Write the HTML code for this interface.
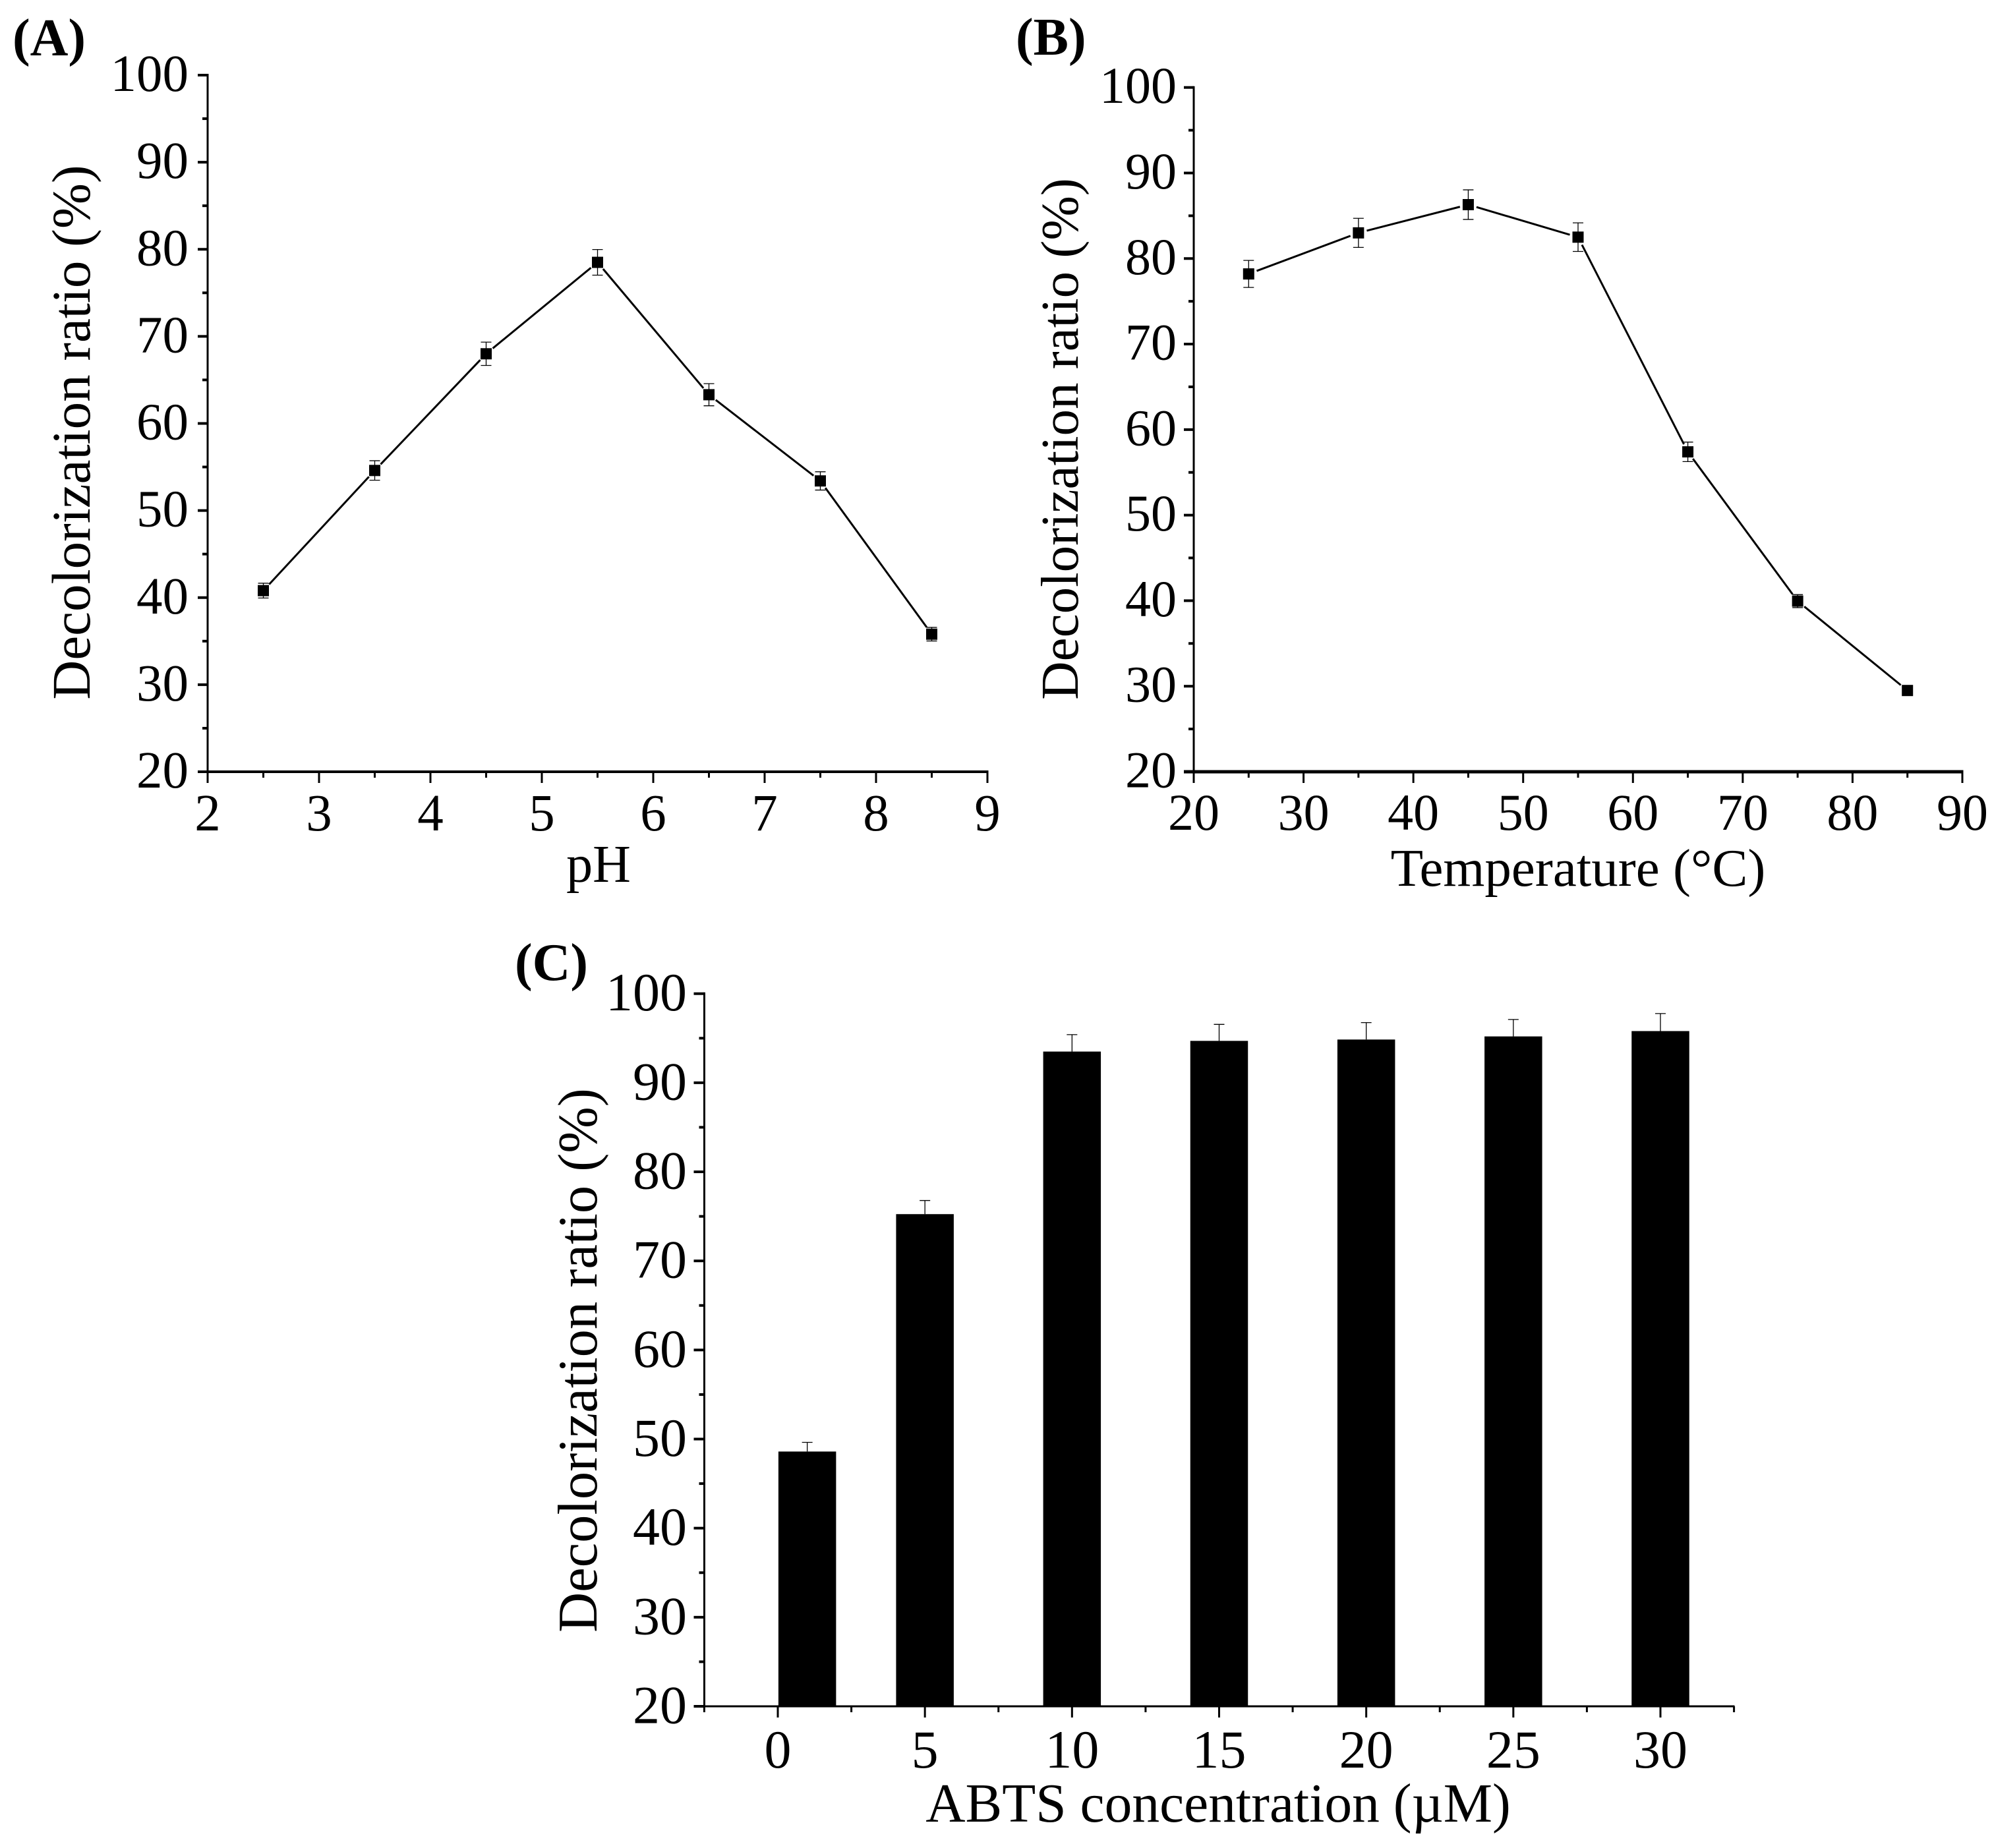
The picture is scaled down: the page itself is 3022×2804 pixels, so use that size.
<!DOCTYPE html>
<html lang="en">
<head>
<meta charset="utf-8">
<title>Decolorization ratio charts</title>
<style>
html,body{margin:0;padding:0;background:#fff;}
svg{display:block;}
text{font-family:"Liberation Serif","Times New Roman",serif;fill:#000;}
</style>
</head>
<body>
<svg id="figure" xmlns="http://www.w3.org/2000/svg" width="3022" height="2804" viewBox="0 0 3022 2804">
  <rect x="0" y="0" width="3022" height="2804" fill="#fff"/>
  <text x="19" y="84" font-size="80" font-weight="bold">(A)</text>
  <text x="1541" y="83" font-size="80" font-weight="bold">(B)</text>
  <text x="781" y="1487" font-size="80" font-weight="bold">(C)</text>
  <g id="panel-a"></g>
  <g id="panel-b"></g>
  <g id="panel-c"></g>
</svg>
<script>
const yTickLabels = [20, 30, 40, 50, 60, 70, 80, 90, 100];
const yMinorTicks = [25, 35, 45, 55, 65, 75, 85, 95];

const phTickLabels = [2, 3, 4, 5, 6, 7, 8, 9];
const phMinorTicks = [2.5, 3.5, 4.5, 5.5, 6.5, 7.5, 8.5];
const phCategories = [2.5, 3.5, 4.5, 5.5, 6.5, 7.5, 8.5];
const phValues = [40.8, 54.6, 68.0, 78.5, 63.3, 53.4, 35.8];
const phErrors = [0.85, 1.12, 1.34, 1.47, 1.27, 1.05, 0.78];

const tempTickLabels = [20, 30, 40, 50, 60, 70, 80, 90];
const tempMinorTicks = [25, 35, 45, 55, 65, 75, 85];
const tempCategories = [25, 35, 45, 55, 65, 75, 85];
const tempValues = [78.2, 83.0, 86.3, 82.5, 57.4, 39.95, 29.5];
const tempErrors = [1.58, 1.7, 1.73, 1.67, 1.14, 0.76, 0.3];

const concTickLabels = [0, 5, 10, 15, 20, 25, 30];
const concMinorTicks = [-2.5, 2.5, 7.5, 12.5, 17.5, 22.5, 27.5, 32.5];
const concCategories = [1, 5, 10, 15, 20, 25, 30];
const concValues = [48.6, 75.25, 93.5, 94.7, 94.85, 95.2, 95.8];
const concErrors = [1.03, 1.53, 1.9, 1.85, 1.9, 1.9, 1.97];

const SVG_NS = 'http://www.w3.org/2000/svg';

function make(tag, parent, props) {
  const el = document.createElementNS(SVG_NS, tag);
  for (const k in props) el.setAttribute(k, props[k]);
  parent.appendChild(el);
  return el;
}

function scale(d0, d1, r0, r1) {
  return function (v) { return r0 + (v - d0) / (d1 - d0) * (r1 - r0); };
}

function drawAxes(g, o, xTicks, xMinor, xFn, yFn) {
  const yLine = make('line', g, {x1: o.left, x2: o.left, y1: yFn(100) - 2, y2: yFn(20), stroke: '#000', 'stroke-width': 3});
  
  
  const xLine = make('line', g, {x1: o.left - o.yMajor, x2: o.right + 1.5, y1: o.bottom, y2: o.bottom, stroke: '#000', 'stroke-width': o.xAxisWidth});
  
  

  yTickLabels.forEach(function (t) {
    const tick = make('line', g, {x1: o.left - o.yMajor, x2: o.left, y1: yFn(t), y2: yFn(t), stroke: '#000', 'stroke-width': 4});
    
    
    const label = make('text', g, {x: o.yLabelRight, y: yFn(t) + o.yLabelDy, 'font-size': o.tickFont, 'text-anchor': 'end'});
    label.textContent = String(t);
    
    
  });
  yMinorTicks.forEach(function (t) {
    const tick = make('line', g, {x1: o.left - 8, x2: o.left, y1: yFn(t), y2: yFn(t), stroke: '#000', 'stroke-width': 4});
    
    
  });
  xTicks.forEach(function (t) {
    const tick = make('line', g, {x1: xFn(t), x2: xFn(t), y1: o.bottom, y2: o.bottom + 17, stroke: '#000', 'stroke-width': 3});
    
    
    const label = make('text', g, {x: xFn(t), y: o.xLabelY, 'font-size': o.tickFont, 'text-anchor': 'middle'});
    label.textContent = String(t);
    
    
  });
  xMinor.forEach(function (t) {
    const tick = make('line', g, {x1: xFn(t), x2: xFn(t), y1: o.bottom, y2: o.bottom + 9, stroke: '#000', 'stroke-width': 3});
    
    
  });

  const xTitle = make('text', g, {x: o.xTitleX, y: o.xTitleY, 'font-size': o.xTitleFont, 'text-anchor': 'middle'});
  xTitle.textContent = o.xTitle;
  
  
  const yTitle = make('text', g, {transform: 'translate(' + o.yTitleX + ',' + o.yTitleY + ') rotate(-90)', 'font-size': o.yTitleFont, 'text-anchor': 'middle'});
  yTitle.textContent = 'Decolorization ratio (%)';
  
  
}

function drawLineSeries(g, cats, vals, errs, xFn, yFn) {
  const GAP = 13;
  for (let i = 0; i < cats.length - 1; i++) {
    const x0 = xFn(cats[i]), y0 = yFn(vals[i]), x1 = xFn(cats[i + 1]), y1 = yFn(vals[i + 1]);
    const len = Math.hypot(x1 - x0, y1 - y0);
    const ux = (x1 - x0) / len, uy = (y1 - y0) / len;
    const seg = make('line', g, {x1: x0 + ux * GAP, y1: y0 + uy * GAP, x2: x1 - ux * GAP, y2: y1 - uy * GAP, stroke: '#000', 'stroke-width': 3});
    
    
  }
  cats.forEach(function (c, i) {
    const x = xFn(c), y = yFn(vals[i]);
    const hi = yFn(vals[i] + errs[i]), lo = yFn(vals[i] - errs[i]);
    const err = make('path', g, {d: 'M' + (x - 8) + ' ' + hi + 'H' + (x + 8) + 'M' + x + ' ' + hi + 'V' + lo + 'M' + (x - 8) + ' ' + lo + 'H' + (x + 8), fill: 'none', stroke: '#000', 'stroke-width': 1.3});
    
    
    const pt = make('rect', g, {x: x - 8.5, y: y - 8.5, width: 17, height: 17, fill: '#000'});
    
    
  });
}

function drawBarSeries(g, cats, vals, errs, xFn, yFn, barUnits) {
  cats.forEach(function (c, i) {
    const cx = xFn(c);
    const w = xFn(c + barUnits / 2) - xFn(c - barUnits / 2);
    const hi = yFn(vals[i] + errs[i]);
    const err = make('path', g, {d: 'M' + (cx - 8) + ' ' + hi + 'H' + (cx + 8) + 'M' + cx + ' ' + hi + 'V' + yFn(vals[i]), fill: 'none', stroke: '#000', 'stroke-width': 1.3});
    
    
    const bar = make('rect', g, {x: cx - w / 2, y: yFn(vals[i]), width: w, height: yFn(20) - yFn(vals[i]), fill: '#000'});
    
    
  });
}

/* Panel A */
(function () {
  const g = document.getElementById('panel-a');
  const xFn = scale(2, 9, 315, 1498);
  const yFn = scale(20, 100, 1171, 114);
  drawAxes(g, {left: 315, right: 1498, bottom: 1171, xAxisWidth: 4, yMajor: 15, tickFont: 79, yLabelRight: 286, yLabelDy: 24, xLabelY: 1260,
    xTitle: 'pH', xTitleX: 908, xTitleY: 1338, xTitleFont: 80, yTitleX: 136, yTitleY: 656, yTitleFont: 83}, phTickLabels, phMinorTicks, xFn, yFn);
  drawLineSeries(g, phCategories, phValues, phErrors, xFn, yFn);
})();

/* Panel B */
(function () {
  const g = document.getElementById('panel-b');
  const xFn = scale(20, 90, 1811, 2977);
  const yFn = scale(20, 100, 1171, 132.7);
  drawAxes(g, {left: 1811, right: 2977, bottom: 1171, xAxisWidth: 5, yMajor: 15, tickFont: 78, yLabelRight: 1785, yLabelDy: 23.5, xLabelY: 1259,
    xTitle: 'Temperature (°C)', xTitleX: 2394, xTitleY: 1344, xTitleFont: 81, yTitleX: 1635, yTitleY: 666, yTitleFont: 81}, tempTickLabels, tempMinorTicks, xFn, yFn);
  drawLineSeries(g, tempCategories, tempValues, tempErrors, xFn, yFn);
})();

/* Panel C */
(function () {
  const g = document.getElementById('panel-c');
  const xFn = scale(0, 30, 1180, 2519);
  const yFn = scale(20, 100, 2589, 1507.7);
  drawBarSeries(g, concCategories, concValues, concErrors, xFn, yFn, 1.96);
  drawAxes(g, {left: 1068.5, right: 2630, bottom: 2589, xAxisWidth: 3, yMajor: 16, tickFont: 82, yLabelRight: 1042, yLabelDy: 25.5, xLabelY: 2682,
    xTitle: 'ABTS concentration (µM)', xTitleX: 1848, xTitleY: 2764, xTitleFont: 83.5, yTitleX: 905, yTitleY: 2064, yTitleFont: 84.5}, concTickLabels, concMinorTicks, xFn, yFn);
})();
</script>
</body>
</html>
